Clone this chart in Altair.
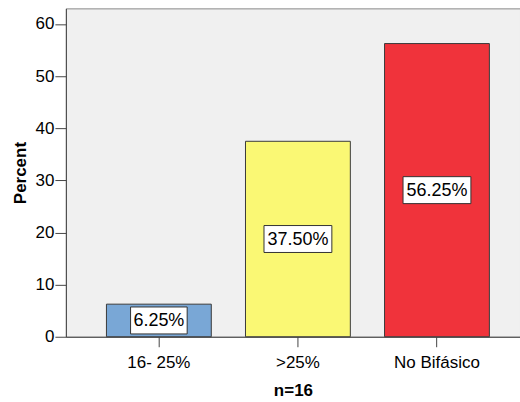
import altair as alt
import pandas as pd

categories = ["16- 25%", ">25%", "No Bifásico"]
percents = [6.25, 37.50, 56.25]
colors = ["#79A7D6", "#FAF874", "#F0333B"]

df = pd.DataFrame({"cat": categories, "pct": percents, "col": colors})

FONT = "Liberation Sans"

x_enc = alt.X(
    "cat:N",
    sort=categories,
    scale=alt.Scale(paddingInner=0.246, paddingOuter=0.256, align=0.57),
    axis=alt.Axis(
        title="n=16", labelAngle=0, labelFontSize=17, titleFontSize=17,
        titleFontWeight="bold", tickSize=10, labelPadding=8, titlePadding=12,
        domainColor="#444444", tickColor="#444444", labelColor="#000000",
        titleColor="#000000", labelFont=FONT, titleFont=FONT, grid=False,
    ),
)

y_scale = alt.Scale(domain=[0, 63], nice=False)

bars = alt.Chart(df).mark_bar(stroke="#3a3a3a", strokeWidth=1).encode(
    x=x_enc,
    y=alt.Y(
        "pct:Q", scale=y_scale,
        axis=alt.Axis(
            title="Percent", values=[0, 10, 20, 30, 40, 50, 60], labelFontSize=17,
            titleFontSize=17, titleFontWeight="bold", tickSize=11, labelPadding=1,
            titlePadding=6, domainColor="#444444", tickColor="#444444",
            labelColor="#000000", titleColor="#000000", labelFont=FONT,
            titleFont=FONT, grid=False,
        ),
    ),
    color=alt.Color("col:N", scale=None),
)

lab = alt.Chart(df).transform_calculate(
    mid="datum.pct / 2",
    label="format(datum.pct, '.2f') + '%'",
).transform_calculate(
    w="11.3 * length(datum.label) + 0.2",
).transform_calculate(
    box="'M' + (-datum.w / 2) + ',-13.5h' + datum.w + 'v27h' + (-datum.w) + 'z'",
)

boxes = lab.mark_point(filled=True, fill="white", stroke="#333333", strokeWidth=1, opacity=1, size=4).encode(
    x=alt.X("cat:N", sort=categories),
    y=alt.Y("mid:Q", scale=y_scale),
    shape=alt.Shape("box:N", scale=None),
)

texts = lab.mark_text(fontSize=18, font=FONT, color="#000000", baseline="middle", dy=1).encode(
    x=alt.X("cat:N", sort=categories),
    y=alt.Y("mid:Q", scale=y_scale),
    text="label:N",
)

chart = (bars + boxes + texts).properties(
    width=455, height=329,
    autosize=alt.AutoSizeParams(type="none"),
    padding={"left": 66, "top": 8, "right": 0, "bottom": 65},
    background="white",
).configure_view(fill="#F0F0F0", stroke="#8a8a8a", strokeWidth=1)

chart.save("out.html", embed_options={"renderer": "svg", "actions": False})
